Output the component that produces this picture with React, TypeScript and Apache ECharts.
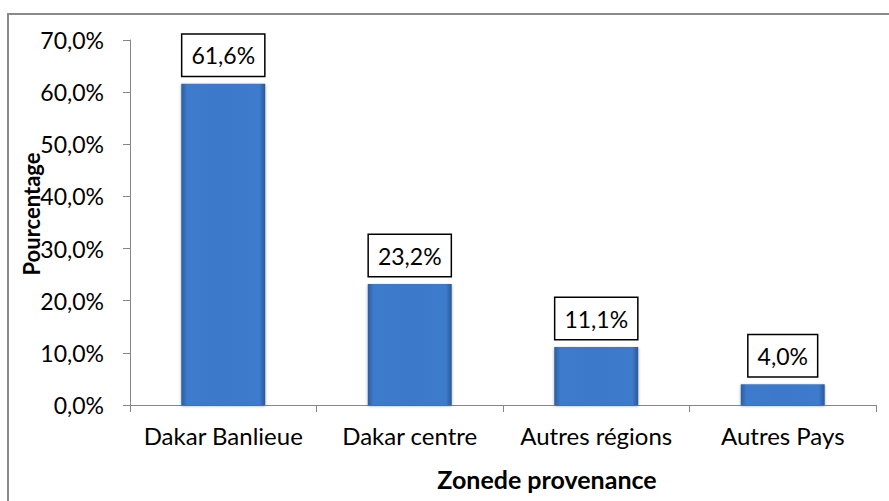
import React, { useEffect, useRef } from "react";
import * as echarts from "echarts";

const categories = ["Dakar Banlieue", "Dakar centre", "Autres régions", "Autres Pays"];
const values = [61.6, 23.2, 11.1, 4.0];
const yMin = 0;
const yMax = 70;
const yInterval = 10;
const yAxisTitle = "Pourcentage";
const xAxisTitle = "Zonede provenance";

const fmt = (v: number) => v.toFixed(1).replace(".", ",") + "%";
const FONT = "Lato";

export default function App() {
  const ref = useRef<HTMLDivElement>(null);
  useEffect(() => {
    if (!ref.current) return;
    const chart = echarts.init(ref.current, undefined, { renderer: "svg" });
    const barColor = new echarts.graphic.LinearGradient(0, 0, 1, 0, [
      { offset: 0, color: "#2b5c9f" },
      { offset: 0.07, color: "#3e7bcc" },
      { offset: 0.5, color: "#3c79ca" },
      { offset: 0.93, color: "#3e7bcc" },
      { offset: 1, color: "#2a5898" },
    ]);
    chart.setOption({
      animation: false,
      backgroundColor: "#ffffff",
      grid: { left: 130, right: 13, top: 40, bottom: 96 },
      graphic: [
        {
          type: "rect",
          z: -10,
          shape: { x: 8, y: 14, width: 1000, height: 1000 },
          style: { fill: "none", stroke: "#8a8a8a", lineWidth: 2 },
        },
        {
          type: "text",
          x: 31,
          y: 214,
          rotation: Math.PI / 2,
          style: {
            text: yAxisTitle,
            fontFamily: FONT,
            fontWeight: "bold",
            fontSize: 22,
            fill: "#000",
            align: "center",
            verticalAlign: "middle",
          },
        },
        {
          type: "text",
          x: 547,
          y: 479,
          style: {
            text: xAxisTitle,
            fontFamily: FONT,
            fontWeight: "bold",
            fontSize: 25,
            fill: "#000",
            align: "center",
            verticalAlign: "middle",
          },
        },
      ],
      xAxis: {
        type: "category",
        data: categories,
        axisLine: { lineStyle: { color: "#868686", width: 1 } },
        axisTick: { show: true, length: 7, lineStyle: { color: "#868686" } },
        axisLabel: { color: "#000", fontFamily: FONT, fontSize: 24, margin: 18, interval: 0 },
      },
      yAxis: {
        type: "value",
        min: yMin,
        max: yMax,
        interval: yInterval,
        splitLine: { show: false },
        axisLine: { show: true, lineStyle: { color: "#868686", width: 1 } },
        axisTick: { show: true, length: 7, lineStyle: { color: "#868686" } },
        axisLabel: {
          color: "#000",
          fontFamily: FONT,
          fontSize: 23,
          margin: 26,
          formatter: (v: number) => fmt(v),
        },
      },
      series: [
        {
          type: "bar",
          data: values,
          barWidth: "45%",
          itemStyle: {
            color: barColor,
            shadowColor: "rgba(0,0,0,0.35)",
            shadowBlur: 3,
            shadowOffsetY: 1,
          },
          label: {
            show: true,
            position: "top",
            distance: 8,
            formatter: (p: any) => fmt(p.value),
            color: "#000",
            fontFamily: FONT,
            fontSize: 23,
            backgroundColor: "#fff",
            borderColor: "#000",
            borderWidth: 1.5,
            padding: [9, 9, 9, 9],
          },
        },
      ],
    });
    return () => chart.dispose();
  }, []);
  return (
    <div
      ref={ref}
      style={{ position: "absolute", left: 0, top: 0, width: 889, height: 501 }}
    />
  );
}
